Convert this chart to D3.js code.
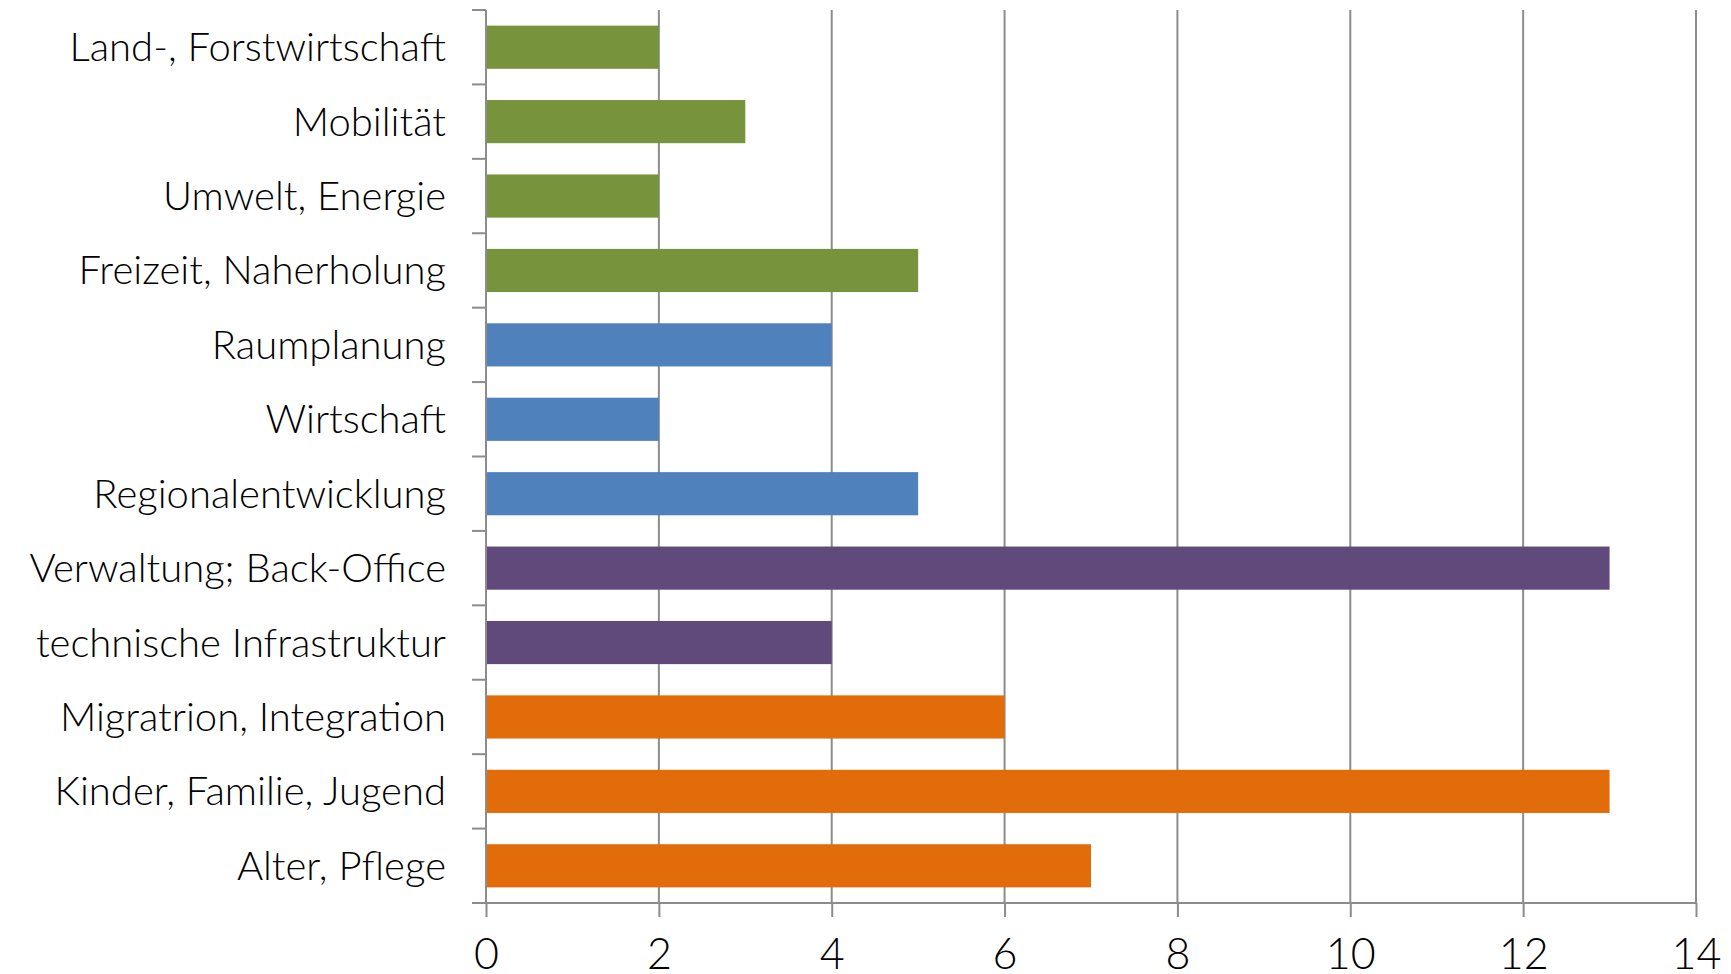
<!DOCTYPE html>
<html>
<head>
<meta charset="utf-8">
<script src="https://cdn.jsdelivr.net/npm/d3@7"></script>
<style>
  html, body { margin: 0; padding: 0; background: #fff; }
  svg { display: block; }
</style>
</head>
<body>
<div id="main-container"></div>
<script>
// Data
const categories = [
    'Land-, Forstwirtschaft',
    'Mobilität',
    'Umwelt, Energie',
    'Freizeit, Naherholung',
    'Raumplanung',
    'Wirtschaft',
    'Regionalentwicklung',
    'Verwaltung; Back-Office',
    'technische Infrastruktur',
    'Migratrion, Integration',
    'Kinder, Familie, Jugend',
    'Alter, Pflege'
];
const values = [2, 3, 2, 5, 4, 2, 5, 13, 4, 6, 13, 7];
const groups = ['green', 'green', 'green', 'green', 'blue', 'blue', 'blue', 'purple', 'purple', 'orange', 'orange', 'orange'];
const xTicks = [0, 2, 4, 6, 8, 10, 12, 14];

const groupColors = {
    green: '#77933c',
    blue: '#4f81bd',
    purple: '#604a7b',
    orange: '#e36c0a'
};

const SVG_WIDTH = 1731;
const SVG_HEIGHT = 974;
const MARGIN = { top: 10, right: 35, bottom: 71, left: 486 };
const GRID_COLOR = '#8c8c8c';
const FONT = 'Lato, "Open Sans", sans-serif';

const SVG = d3.select('#main-container').append('svg')
    .attr('width', SVG_WIDTH)
    .attr('height', SVG_HEIGHT);

const x = d3.scaleLinear()
    .domain([0, 14])
    .range([MARGIN.left, SVG_WIDTH - MARGIN.right]);

const y = d3.scaleBand()
    .domain(categories)
    .range([MARGIN.top, SVG_HEIGHT - MARGIN.bottom])
    .paddingInner(0.42)
    .paddingOuter(0.21);

const plotTop = MARGIN.top;
const plotBottom = SVG_HEIGHT - MARGIN.bottom;

// Gridlines
SVG.append('g')
    .selectAll('line')
    .data(xTicks.filter(d => d > 0))
    .enter()
    .append('line')
    .attr('x1', d => x(d))
    .attr('x2', d => x(d))
    .attr('y1', plotTop)
    .attr('y2', plotBottom)
    .attr('stroke', GRID_COLOR)
    .attr('stroke-width', 2);

// Bars
SVG.append('g')
    .selectAll('rect')
    .data(categories)
    .enter()
    .append('rect')
    .attr('x', x(0))
    .attr('y', d => y(d))
    .attr('width', (d, i) => x(values[i]) - x(0))
    .attr('height', y.bandwidth())
    .attr('fill', (d, i) => groupColors[groups[i]]);

// Bottom axis
const xAxis = d3.axisBottom(x)
    .tickValues(xTicks)
    .tickSize(14)
    .tickPadding(21)
    .tickFormat(d3.format('d'));

const xAxisG = SVG.append('g')
    .attr('transform', `translate(0, ${plotBottom})`)
    .call(xAxis);
xAxisG.select('.domain')
    .attr('d', `M${x(0) - 14},0H${x(14)}`)
    .attr('stroke', GRID_COLOR)
    .attr('stroke-width', 2);
xAxisG.selectAll('.tick line')
    .attr('stroke', GRID_COLOR)
    .attr('stroke-width', 2);
xAxisG.selectAll('.tick text')
    .style('font-family', FONT)
    .style('font-weight', 300)
    .style('font-size', '43px')
    .attr('fill', '#000');

// Left axis: ticks at band boundaries
const boundaries = d3.range(categories.length + 1).map(i => plotTop + i * (plotBottom - plotTop) / categories.length);

SVG.append('line')
    .attr('x1', x(0))
    .attr('x2', x(0))
    .attr('y1', plotTop)
    .attr('y2', plotBottom)
    .attr('stroke', GRID_COLOR)
    .attr('stroke-width', 2);

SVG.append('g')
    .selectAll('line')
    .data(boundaries)
    .enter()
    .append('line')
    .attr('x1', x(0) - 14)
    .attr('x2', x(0))
    .attr('y1', d => d)
    .attr('y2', d => d)
    .attr('stroke', GRID_COLOR)
    .attr('stroke-width', 2);

// Category labels
SVG.append('g')
    .selectAll('text')
    .data(categories)
    .enter()
    .append('text')
    .attr('x', 446)
    .attr('y', d => y(d) + y.bandwidth() / 2)
    .attr('dy', '0.35em')
    .attr('text-anchor', 'end')
    .style('font-family', FONT)
    .style('font-weight', 300)
    .style('font-size', '40px')
    .attr('fill', '#000')
    .text(d => d);
</script>
</body>
</html>
